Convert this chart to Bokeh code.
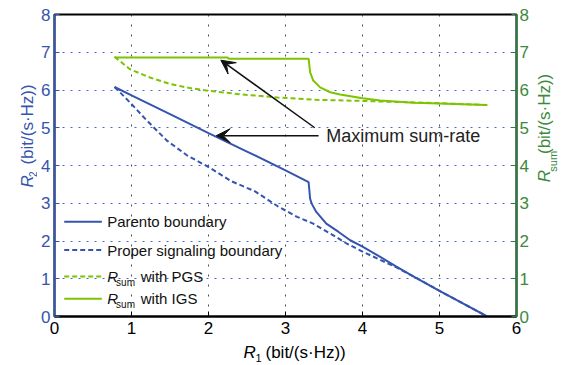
import numpy as np
from bokeh.plotting import figure
from bokeh.layouts import row, column
from bokeh.models import Range1d, LinearAxis, Label, Arrow, VeeHead, FixedTicker
from bokeh.embed import file_html
from bokeh.resources import INLINE

# ---------------- data ----------------
pareto_r1 = [0.78, 1.0, 1.5, 2.0, 2.5, 3.0, 3.30, 3.32, 3.34, 3.40, 3.53, 3.69, 3.84, 4.0, 4.23, 4.44, 4.66, 5.0, 5.62]
pareto_r2 = [6.08, 5.86, 5.36, 4.86, 4.37, 3.87, 3.56, 3.12, 2.99, 2.77, 2.46, 2.24, 2.02, 1.85, 1.58, 1.32, 1.06, 0.68, 0.0]

proper_r1 = [0.78, 0.85, 0.98, 1.2, 1.46, 1.72, 2.0, 2.3, 2.6, 2.9, 3.15, 3.36, 3.58, 3.79, 4.0, 4.23, 4.44, 4.7, 5.0, 5.62]
proper_r2 = [6.08, 5.94, 5.67, 5.19, 4.66, 4.27, 3.96, 3.58, 3.32, 2.92, 2.64, 2.46, 2.20, 1.94, 1.72, 1.50, 1.30, 1.02, 0.68, 0.0]

pgs_r1 = [0.78, 0.98, 1.24, 1.5, 1.76, 2.0, 2.4, 2.9, 3.4, 4.0, 4.5, 5.0, 5.62]
pgs_rsum = [6.88, 6.55, 6.33, 6.16, 6.05, 5.98, 5.89, 5.80, 5.74, 5.71, 5.68, 5.65, 5.60]

igs_r1 = [0.78, 2.25, 2.26, 3.30, 3.32, 3.36, 3.45, 3.58, 3.71, 4.0, 4.23, 4.66, 5.0, 5.62]
igs_rsum = [6.86, 6.86, 6.83, 6.83, 6.47, 6.25, 6.07, 5.94, 5.88, 5.78, 5.72, 5.66, 5.64, 5.60]

x_ticks = [0, 1, 2, 3, 4, 5, 6]
y_ticks = [0, 1, 2, 3, 4, 5, 6, 7, 8]
legend_labels = ["Parento boundary", "Proper signaling boundary", "with PGS", "with IGS"]
unit_text = "(bit/(s\u00b7Hz))"
annotation_text = "Maximum sum-rate"

# ---------------- styles / layout ----------------
FONT = "Liberation Sans"
BLUE = "#3554b0"
GREEN = "#7cc400"
DKGREEN = "#2e7d44"
GRN_TXT = "#3b8a3b"

LEFT_W, RIGHT_W, BOTTOM_H = 37, 34, 23
MAIN_W, MAIN_H = 495, 342

p = figure(width=MAIN_W, height=MAIN_H,
           x_range=Range1d(0, 6), y_range=Range1d(0, 8),
           min_border_left=17, min_border_right=16, min_border_top=14, min_border_bottom=26,
           output_backend="svg", toolbar_location=None)
p.extra_y_ranges = {"rsum": Range1d(0, 8)}
p.background_fill_color = "white"
p.border_fill_color = "white"
p.outline_line_color = "black"
p.outline_line_width = 2

def style_axis(ax, color, text_color, standoff):
    ax.axis_line_color = color
    ax.axis_line_width = 2
    ax.major_tick_line_color = color
    ax.major_tick_line_width = 1
    ax.major_tick_in = 5
    ax.major_tick_out = 0
    ax.minor_tick_line_color = None
    ax.major_label_text_font = FONT
    ax.major_label_text_font_size = "17px"
    ax.major_label_text_color = text_color
    ax.major_label_standoff = standoff

p.xaxis.ticker = FixedTicker(ticks=x_ticks)
style_axis(p.xaxis[0], "black", "black", 5)
p.yaxis.ticker = FixedTicker(ticks=y_ticks)
style_axis(p.yaxis[0], BLUE, BLUE, 4)

right = LinearAxis(y_range_name="rsum", ticker=FixedTicker(ticks=y_ticks))
style_axis(right, DKGREEN, GRN_TXT, 3)
p.add_layout(right, "right")

p.xgrid.grid_line_color = "#222222"
p.xgrid.grid_line_dash = "2 8"
p.xgrid.grid_line_alpha = 0.8
p.ygrid.grid_line_color = "#3355cc"
p.ygrid.grid_line_dash = "2 6"
p.ygrid.grid_line_alpha = 0.9

# ---------------- data lines ----------------
p.line(pareto_r1, pareto_r2, line_color=BLUE, line_width=2)
p.line(proper_r1, proper_r2, line_color=BLUE, line_width=2, line_dash="5 3")
p.line(pgs_r1, pgs_rsum, line_color=GREEN, line_width=2, line_dash="5 3", y_range_name="rsum")
p.line(igs_r1, igs_rsum, line_color=GREEN, line_width=2, y_range_name="rsum")

# ---------------- manual legend ----------------
leg_x0, leg_x1, leg_tx = 0.126, 0.615, 0.684
leg_rows = [2.51, 1.76, 1.06, 0.47]
leg_styles = [(BLUE, "solid"), (BLUE, "5 3"), (GREEN, "5 3"), (GREEN, "solid")]
for i, (yy, (c, d)) in enumerate(zip(leg_rows, leg_styles)):
    p.line([leg_x0, leg_x1], [yy, yy], line_color=c, line_width=2, line_dash=d)
    if i < 2:
        p.add_layout(Label(x=leg_tx, y=yy, text=legend_labels[i], text_font=FONT,
                           text_font_size="15px", text_baseline="middle", text_color="#111111"))
    else:
        p.add_layout(Label(x=leg_tx, y=yy, text="R", text_font=FONT, text_font_style="italic",
                           text_font_size="15px", text_baseline="middle", text_color="#111111"))
        p.add_layout(Label(x=0.80, y=yy, y_offset=-6, text="sum", text_font=FONT,
                           text_font_size="10px", text_baseline="middle", text_color="#111111"))
        p.add_layout(Label(x=1.12, y=yy, text=legend_labels[i], text_font=FONT,
                           text_font_size="15px", text_baseline="middle", text_color="#111111"))

# ---------------- annotation ----------------
p.add_layout(Label(x=3.53, y=4.79, text=annotation_text, text_font=FONT,
                   text_font_size="18px", text_baseline="middle", text_color="#222222"))
for (xs, ys, xe, ye) in [(3.38, 5.0, 2.16, 6.79), (3.43, 4.79, 2.10, 4.79)]:
    p.add_layout(Arrow(x_start=xs, y_start=ys, x_end=xe, y_end=ye, line_width=1.5, line_color="#111111",
                       end=VeeHead(size=14, fill_color="#111111", line_color="#111111")))

# ---------------- axis titles in small text panels (pixel coordinates) ----------------
def text_fig(w, h):
    f = figure(width=w, height=h, x_range=Range1d(0, w), y_range=Range1d(0, h),
               x_axis_type=None, y_axis_type=None, min_border=0,
               output_backend="svg", toolbar_location=None)
    f.outline_line_color = None
    f.background_fill_color = "white"
    f.border_fill_color = "white"
    return f

def put(f, x, y, text, size, color, italic=False, angle=0.0):
    f.add_layout(Label(x=x, y=y, text=text, text_font=FONT, angle=angle,
                       text_font_style="italic" if italic else "normal",
                       text_font_size=size, text_baseline="middle", text_color=color))

ang = np.pi / 2
left_fig = text_fig(LEFT_W, MAIN_H)
put(left_fig, 26.5, 146, "R", "17px", BLUE, italic=True, angle=ang)
put(left_fig, 32, 158, "2", "10px", BLUE, angle=ang)
put(left_fig, 26.5, 172, unit_text, "17px", BLUE, angle=ang)

right_fig = text_fig(RIGHT_W, MAIN_H)
put(right_fig, 11.5, 152, "R", "17px", GRN_TXT, italic=True, angle=ang)
put(right_fig, 20.5, 164, "sum", "11px", GRN_TXT, angle=ang)
put(right_fig, 11.5, 184, unit_text, "17px", GRN_TXT, angle=ang)

bottom_fig = text_fig(LEFT_W + MAIN_W + RIGHT_W, BOTTOM_H)
put(bottom_fig, 243, 13, "R", "17px", "black", italic=True)
put(bottom_fig, 255, 8, "1", "11px", "black")
put(bottom_fig, 265, 13, unit_text, "17px", "black")

layout = column(row(left_fig, p, right_fig, spacing=0), bottom_fig, spacing=0)
open("out.html", "w").write(file_html(layout, INLINE))
